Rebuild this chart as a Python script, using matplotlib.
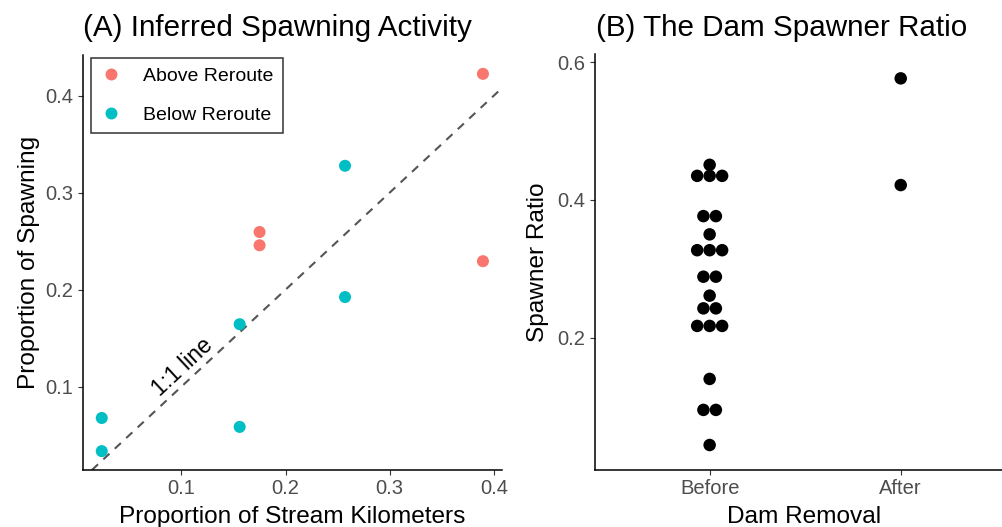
import matplotlib
matplotlib.use("Agg")
import matplotlib.pyplot as plt
from matplotlib.lines import Line2D
import numpy as np

# ---- data ----
km_above = [0.3896, 0.175, 0.175, 0.3896]
spawn_above = [0.4225, 0.2594, 0.2457, 0.2293]
km_below = [0.2571, 0.2571, 0.1559, 0.1559, 0.0234, 0.0234]
spawn_below = [0.3277, 0.1923, 0.1643, 0.0584, 0.0676, 0.0334]
group_labels = ["Above Reroute", "Below Reroute"]

periods = ["Before", "After"]
before_ratio = [0.044, 0.095, 0.095, 0.140, 0.217, 0.217, 0.217, 0.2425, 0.2425,
                0.261, 0.2885, 0.2885, 0.327, 0.327, 0.327, 0.350, 0.3765, 0.3765,
                0.435, 0.435, 0.435, 0.451]
after_ratio = [0.4216, 0.5766]

RED = "#F8766D"
CYAN = "#00BFC4"
TICKCOL = "#4D4D4D"

plt.rcParams['font.family'] = ['Liberation Sans', 'DejaVu Sans']

W, H = 1002, 527
fig = plt.figure(figsize=(W / 100, H / 100), dpi=100)

def px_axes(l, t, r, b):
    return fig.add_axes([l / W, 1 - b / H, (r - l) / W, (b - t) / H])

def style(ax):
    for s in ["top", "right"]:
        ax.spines[s].set_visible(False)
    for s in ["left", "bottom"]:
        ax.spines[s].set_linewidth(1.1)
        ax.spines[s].set_color("black")
    ax.tick_params(axis="both", length=3.6, width=0.8, color="#333333",
                   labelcolor=TICKCOL, labelsize=14.5, pad=3.2)

# ---- Panel A ----
axA = px_axes(82.7, 55, 502, 470)
style(axA)
axA.set_xlim(0.0051, 0.4079)
axA.set_ylim(0.01395, 0.44195)
l = axA.axline((0, 0), slope=1, color="#555555", linewidth=1.5, zorder=1)
l.set_dashes((4, 3.5))
axA.scatter(km_above, spawn_above, s=75, color=RED, edgecolors="none", zorder=3)
axA.scatter(km_below, spawn_below, s=75, color=CYAN, edgecolors="none", zorder=3)
axA.set_xticks([0.1, 0.2, 0.3, 0.4])
axA.set_xticklabels(["0.1", "0.2", "0.3", "0.4"])
axA.set_yticks([0.1, 0.2, 0.3, 0.4])
axA.set_yticklabels(["0.1", "0.2", "0.3", "0.4"])
axA.text(0.1014, 0.1197, "1:1 line", fontsize=16.5, rotation=43,
         rotation_mode="anchor", ha="center", va="center", color="black")
axA.set_xlabel("Proportion of Stream Kilometers", fontsize=17.6, va="baseline")
axA.xaxis.set_label_coords(0.5, -(523 - 470) / 415)
axA.set_ylabel("Proportion of Spawning", fontsize=17.6)
axA.yaxis.set_label_coords((40 - 82.7) / 419.3, 0.5)

handles = [Line2D([], [], linestyle="none", marker="o", markersize=8.6,
                  markerfacecolor=c, markeredgecolor="none") for c in (RED, CYAN)]
leg = axA.legend(handles, group_labels, loc="upper left",
                 bbox_to_anchor=(91 / W, 1 - 57.7 / H), bbox_transform=fig.transFigure,
                 borderaxespad=0, fontsize=14, frameon=True, fancybox=False,
                 borderpad=0.5, handlelength=1.06, handletextpad=1.09,
                 labelspacing=1.08)
leg.get_frame().set_edgecolor("black")
leg.get_frame().set_linewidth(1.1)

# ---- Panel B ----
axB = px_axes(595, 54, 1002, 470)
style(axB)
axB.set_xlim(0.4, 2.53)
axB.set_ylim(0.0077, 0.612)
d = 0.0653
vals, counts = np.unique(before_ratio, return_counts=True)
bx, by = [], []
for v, c in zip(vals, counts):
    offs = (np.arange(c) - (c - 1) / 2) * d
    bx.extend(1 + offs)
    by.extend([v] * c)
axB.scatter(bx, by, s=81, color="black", edgecolors="none", zorder=3)
axB.scatter([2] * len(after_ratio), after_ratio, s=81, color="black",
            edgecolors="none", zorder=3)
axB.set_xticks([1, 2])
axB.set_xticklabels(periods)
axB.set_yticks([0.2, 0.4, 0.6])
axB.set_yticklabels(["0.2", "0.4", "0.6"])
axB.set_xlabel("Dam Removal", fontsize=17.6, va="baseline")
axB.xaxis.set_label_coords((804 - 595) / 407, -(523 - 470) / 416)
axB.set_ylabel("Spawner Ratio", fontsize=17.6)
axB.yaxis.set_label_coords((549 - 595) / 407, 0.5)

# ---- titles ----
fig.text(83 / W, 1 - 36 / H, "(A) Inferred Spawning Activity", fontsize=21.3,
         va="baseline", ha="left")
fig.text(596 / W, 1 - 36 / H, "(B) The Dam Spawner Ratio", fontsize=21.3,
         va="baseline", ha="left")

fig.savefig("out.png", dpi=100)
